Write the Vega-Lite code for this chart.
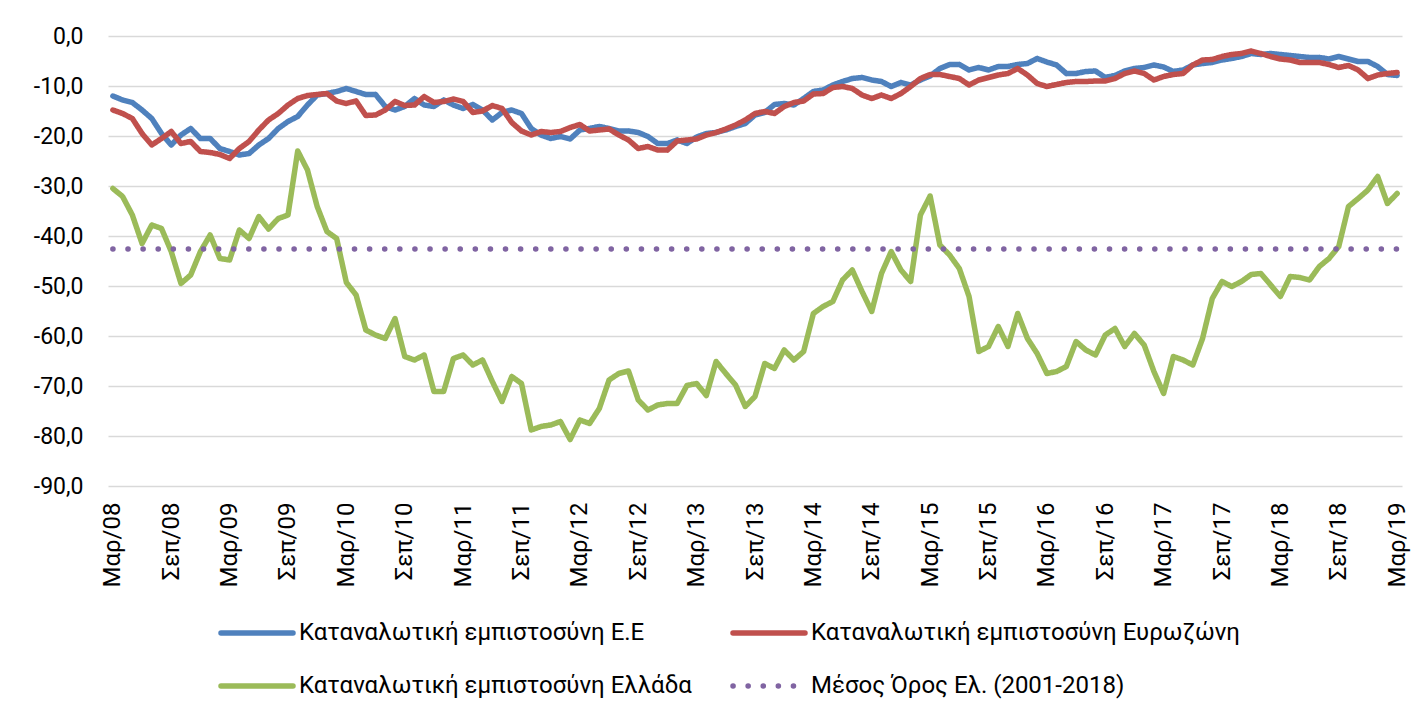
{
  "$schema": "https://vega.github.io/schema/vega-lite/v6.json",
  "autosize": "none",
  "width": 1294,
  "height": 450,
  "padding": {"left": 108, "top": 36, "right": 11, "bottom": 226},
  "background": "white",
  "config": {
    "view": {"stroke": null},
    "font": "Roboto",
    "axis": {"labelFont": "Roboto", "labelColor": "#000000"},
    "legend": {"labelFont": "Roboto"}
  },
  "data": {"values": [
{"d":"2008-03","eu":-12.0,"ea":-14.8,"gr":-30.5,"avg":-42.6},
{"d":"2008-04","eu":-12.8,"ea":-15.5,"gr":-32.1,"avg":-42.6},
{"d":"2008-05","eu":-13.3,"ea":-16.5,"gr":-35.8,"avg":-42.6},
{"d":"2008-06","eu":-14.8,"ea":-19.5,"gr":-41.5,"avg":-42.6},
{"d":"2008-07","eu":-16.5,"ea":-21.8,"gr":-37.8,"avg":-42.6},
{"d":"2008-08","eu":-19.5,"ea":-20.5,"gr":-38.5,"avg":-42.6},
{"d":"2008-09","eu":-21.8,"ea":-19.1,"gr":-43.1,"avg":-42.6},
{"d":"2008-10","eu":-19.8,"ea":-21.5,"gr":-49.5,"avg":-42.6},
{"d":"2008-11","eu":-18.5,"ea":-21.1,"gr":-47.8,"avg":-42.6},
{"d":"2008-12","eu":-20.5,"ea":-23.1,"gr":-43.1,"avg":-42.6},
{"d":"2009-01","eu":-20.5,"ea":-23.3,"gr":-39.8,"avg":-42.6},
{"d":"2009-02","eu":-22.5,"ea":-23.7,"gr":-44.5,"avg":-42.6},
{"d":"2009-03","eu":-23.1,"ea":-24.5,"gr":-44.8,"avg":-42.6},
{"d":"2009-04","eu":-23.8,"ea":-22.5,"gr":-38.8,"avg":-42.6},
{"d":"2009-05","eu":-23.5,"ea":-21.1,"gr":-40.5,"avg":-42.6},
{"d":"2009-06","eu":-21.8,"ea":-18.8,"gr":-36.1,"avg":-42.6},
{"d":"2009-07","eu":-20.5,"ea":-16.8,"gr":-38.6,"avg":-42.6},
{"d":"2009-08","eu":-18.5,"ea":-15.5,"gr":-36.5,"avg":-42.6},
{"d":"2009-09","eu":-17.1,"ea":-13.8,"gr":-35.8,"avg":-42.6},
{"d":"2009-10","eu":-16.1,"ea":-12.5,"gr":-23.0,"avg":-42.6},
{"d":"2009-11","eu":-13.8,"ea":-11.9,"gr":-26.8,"avg":-42.6},
{"d":"2009-12","eu":-11.8,"ea":-11.7,"gr":-34.1,"avg":-42.6},
{"d":"2010-01","eu":-11.5,"ea":-11.5,"gr":-39.1,"avg":-42.6},
{"d":"2010-02","eu":-11.1,"ea":-13.0,"gr":-40.5,"avg":-42.6},
{"d":"2010-03","eu":-10.5,"ea":-13.5,"gr":-49.3,"avg":-42.6},
{"d":"2010-04","eu":-11.1,"ea":-13.0,"gr":-51.8,"avg":-42.6},
{"d":"2010-05","eu":-11.7,"ea":-15.9,"gr":-58.8,"avg":-42.6},
{"d":"2010-06","eu":-11.7,"ea":-15.8,"gr":-59.8,"avg":-42.6},
{"d":"2010-07","eu":-14.1,"ea":-14.8,"gr":-60.5,"avg":-42.6},
{"d":"2010-08","eu":-14.8,"ea":-13.1,"gr":-56.5,"avg":-42.6},
{"d":"2010-09","eu":-14.1,"ea":-13.9,"gr":-64.1,"avg":-42.6},
{"d":"2010-10","eu":-12.5,"ea":-13.8,"gr":-64.8,"avg":-42.6},
{"d":"2010-11","eu":-13.8,"ea":-12.1,"gr":-63.8,"avg":-42.6},
{"d":"2010-12","eu":-14.1,"ea":-13.3,"gr":-71.1,"avg":-42.6},
{"d":"2011-01","eu":-12.8,"ea":-13.1,"gr":-71.1,"avg":-42.6},
{"d":"2011-02","eu":-13.8,"ea":-12.6,"gr":-64.5,"avg":-42.6},
{"d":"2011-03","eu":-14.5,"ea":-13.1,"gr":-63.8,"avg":-42.6},
{"d":"2011-04","eu":-13.7,"ea":-15.3,"gr":-65.8,"avg":-42.6},
{"d":"2011-05","eu":-14.8,"ea":-15.0,"gr":-64.8,"avg":-42.6},
{"d":"2011-06","eu":-16.8,"ea":-13.9,"gr":-69.1,"avg":-42.6},
{"d":"2011-07","eu":-15.3,"ea":-14.5,"gr":-73.1,"avg":-42.6},
{"d":"2011-08","eu":-14.8,"ea":-17.3,"gr":-68.1,"avg":-42.6},
{"d":"2011-09","eu":-15.5,"ea":-19.0,"gr":-69.5,"avg":-42.6},
{"d":"2011-10","eu":-18.5,"ea":-19.8,"gr":-78.8,"avg":-42.6},
{"d":"2011-11","eu":-19.8,"ea":-19.1,"gr":-78.1,"avg":-42.6},
{"d":"2011-12","eu":-20.5,"ea":-19.3,"gr":-77.8,"avg":-42.6},
{"d":"2012-01","eu":-20.1,"ea":-19.1,"gr":-77.1,"avg":-42.6},
{"d":"2012-02","eu":-20.6,"ea":-18.3,"gr":-80.7,"avg":-42.6},
{"d":"2012-03","eu":-18.8,"ea":-17.7,"gr":-76.8,"avg":-42.6},
{"d":"2012-04","eu":-18.5,"ea":-19.0,"gr":-77.5,"avg":-42.6},
{"d":"2012-05","eu":-18.1,"ea":-18.8,"gr":-74.5,"avg":-42.6},
{"d":"2012-06","eu":-18.5,"ea":-18.6,"gr":-68.8,"avg":-42.6},
{"d":"2012-07","eu":-19.0,"ea":-19.8,"gr":-67.5,"avg":-42.6},
{"d":"2012-08","eu":-19.0,"ea":-20.8,"gr":-67.0,"avg":-42.6},
{"d":"2012-09","eu":-19.3,"ea":-22.5,"gr":-72.8,"avg":-42.6},
{"d":"2012-10","eu":-20.1,"ea":-22.1,"gr":-74.8,"avg":-42.6},
{"d":"2012-11","eu":-21.5,"ea":-22.8,"gr":-73.8,"avg":-42.6},
{"d":"2012-12","eu":-21.5,"ea":-22.8,"gr":-73.5,"avg":-42.6},
{"d":"2013-01","eu":-20.8,"ea":-21.0,"gr":-73.5,"avg":-42.6},
{"d":"2013-02","eu":-21.5,"ea":-20.8,"gr":-69.9,"avg":-42.6},
{"d":"2013-03","eu":-20.2,"ea":-20.6,"gr":-69.5,"avg":-42.6},
{"d":"2013-04","eu":-19.5,"ea":-19.8,"gr":-71.9,"avg":-42.6},
{"d":"2013-05","eu":-19.3,"ea":-19.3,"gr":-65.1,"avg":-42.6},
{"d":"2013-06","eu":-18.8,"ea":-18.6,"gr":-67.5,"avg":-42.6},
{"d":"2013-07","eu":-18.1,"ea":-17.8,"gr":-69.8,"avg":-42.6},
{"d":"2013-08","eu":-17.5,"ea":-16.8,"gr":-74.1,"avg":-42.6},
{"d":"2013-09","eu":-15.8,"ea":-15.5,"gr":-72.1,"avg":-42.6},
{"d":"2013-10","eu":-15.3,"ea":-15.1,"gr":-65.5,"avg":-42.6},
{"d":"2013-11","eu":-13.7,"ea":-15.5,"gr":-66.5,"avg":-42.6},
{"d":"2013-12","eu":-13.5,"ea":-14.1,"gr":-62.8,"avg":-42.6},
{"d":"2014-01","eu":-13.8,"ea":-13.3,"gr":-64.8,"avg":-42.6},
{"d":"2014-02","eu":-12.5,"ea":-13.0,"gr":-63.1,"avg":-42.6},
{"d":"2014-03","eu":-11.1,"ea":-11.6,"gr":-55.5,"avg":-42.6},
{"d":"2014-04","eu":-10.8,"ea":-11.5,"gr":-54.1,"avg":-42.6},
{"d":"2014-05","eu":-9.8,"ea":-10.3,"gr":-53.1,"avg":-42.6},
{"d":"2014-06","eu":-9.1,"ea":-10.1,"gr":-48.8,"avg":-42.6},
{"d":"2014-07","eu":-8.5,"ea":-10.5,"gr":-46.8,"avg":-42.6},
{"d":"2014-08","eu":-8.3,"ea":-11.8,"gr":-51.1,"avg":-42.6},
{"d":"2014-09","eu":-8.8,"ea":-12.5,"gr":-55.1,"avg":-42.6},
{"d":"2014-10","eu":-9.1,"ea":-11.8,"gr":-47.5,"avg":-42.6},
{"d":"2014-11","eu":-10.1,"ea":-12.5,"gr":-43.1,"avg":-42.6},
{"d":"2014-12","eu":-9.3,"ea":-11.5,"gr":-46.8,"avg":-42.6},
{"d":"2015-01","eu":-9.8,"ea":-10.1,"gr":-49.1,"avg":-42.6},
{"d":"2015-02","eu":-8.8,"ea":-8.5,"gr":-35.8,"avg":-42.6},
{"d":"2015-03","eu":-8.0,"ea":-7.7,"gr":-32.0,"avg":-42.6},
{"d":"2015-04","eu":-6.5,"ea":-7.7,"gr":-41.8,"avg":-42.6},
{"d":"2015-05","eu":-5.7,"ea":-8.1,"gr":-43.8,"avg":-42.6},
{"d":"2015-06","eu":-5.7,"ea":-8.5,"gr":-46.5,"avg":-42.6},
{"d":"2015-07","eu":-6.8,"ea":-9.8,"gr":-52.1,"avg":-42.6},
{"d":"2015-08","eu":-6.3,"ea":-8.8,"gr":-63.1,"avg":-42.6},
{"d":"2015-09","eu":-6.8,"ea":-8.3,"gr":-62.1,"avg":-42.6},
{"d":"2015-10","eu":-6.1,"ea":-7.8,"gr":-58.1,"avg":-42.6},
{"d":"2015-11","eu":-6.1,"ea":-7.5,"gr":-62.1,"avg":-42.6},
{"d":"2015-12","eu":-5.7,"ea":-6.5,"gr":-55.5,"avg":-42.6},
{"d":"2016-01","eu":-5.5,"ea":-7.8,"gr":-60.5,"avg":-42.6},
{"d":"2016-02","eu":-4.5,"ea":-9.5,"gr":-63.5,"avg":-42.6},
{"d":"2016-03","eu":-5.2,"ea":-10.1,"gr":-67.5,"avg":-42.6},
{"d":"2016-04","eu":-5.8,"ea":-9.7,"gr":-67.1,"avg":-42.6},
{"d":"2016-05","eu":-7.5,"ea":-9.3,"gr":-66.1,"avg":-42.6},
{"d":"2016-06","eu":-7.5,"ea":-9.1,"gr":-61.1,"avg":-42.6},
{"d":"2016-07","eu":-7.1,"ea":-9.1,"gr":-62.8,"avg":-42.6},
{"d":"2016-08","eu":-7.0,"ea":-9.0,"gr":-63.8,"avg":-42.6},
{"d":"2016-09","eu":-8.3,"ea":-9.0,"gr":-59.8,"avg":-42.6},
{"d":"2016-10","eu":-7.9,"ea":-8.5,"gr":-58.5,"avg":-42.6},
{"d":"2016-11","eu":-7.0,"ea":-7.5,"gr":-62.1,"avg":-42.6},
{"d":"2016-12","eu":-6.5,"ea":-7.0,"gr":-59.5,"avg":-42.6},
{"d":"2017-01","eu":-6.3,"ea":-7.5,"gr":-61.8,"avg":-42.6},
{"d":"2017-02","eu":-5.8,"ea":-8.8,"gr":-67.1,"avg":-42.6},
{"d":"2017-03","eu":-6.2,"ea":-8.1,"gr":-71.5,"avg":-42.6},
{"d":"2017-04","eu":-7.1,"ea":-7.7,"gr":-64.1,"avg":-42.6},
{"d":"2017-05","eu":-6.8,"ea":-7.5,"gr":-64.8,"avg":-42.6},
{"d":"2017-06","eu":-5.8,"ea":-5.8,"gr":-65.8,"avg":-42.6},
{"d":"2017-07","eu":-5.5,"ea":-4.8,"gr":-60.5,"avg":-42.6},
{"d":"2017-08","eu":-5.3,"ea":-4.7,"gr":-52.5,"avg":-42.6},
{"d":"2017-09","eu":-4.8,"ea":-4.1,"gr":-49.1,"avg":-42.6},
{"d":"2017-10","eu":-4.5,"ea":-3.7,"gr":-50.1,"avg":-42.6},
{"d":"2017-11","eu":-4.1,"ea":-3.5,"gr":-49.1,"avg":-42.6},
{"d":"2017-12","eu":-3.5,"ea":-3.0,"gr":-47.7,"avg":-42.6},
{"d":"2018-01","eu":-3.7,"ea":-3.5,"gr":-47.5,"avg":-42.6},
{"d":"2018-02","eu":-3.5,"ea":-4.1,"gr":-49.8,"avg":-42.6},
{"d":"2018-03","eu":-3.7,"ea":-4.6,"gr":-52.1,"avg":-42.6},
{"d":"2018-04","eu":-3.9,"ea":-4.8,"gr":-48.1,"avg":-42.6},
{"d":"2018-05","eu":-4.1,"ea":-5.3,"gr":-48.3,"avg":-42.6},
{"d":"2018-06","eu":-4.3,"ea":-5.3,"gr":-48.8,"avg":-42.6},
{"d":"2018-07","eu":-4.3,"ea":-5.3,"gr":-46.1,"avg":-42.6},
{"d":"2018-08","eu":-4.6,"ea":-5.7,"gr":-44.5,"avg":-42.6},
{"d":"2018-09","eu":-4.1,"ea":-6.3,"gr":-42.1,"avg":-42.6},
{"d":"2018-10","eu":-4.6,"ea":-5.9,"gr":-34.1,"avg":-42.6},
{"d":"2018-11","eu":-5.1,"ea":-6.8,"gr":-32.5,"avg":-42.6},
{"d":"2018-12","eu":-5.1,"ea":-8.5,"gr":-30.8,"avg":-42.6},
{"d":"2019-01","eu":-6.1,"ea":-7.8,"gr":-28.1,"avg":-42.6},
{"d":"2019-02","eu":-7.7,"ea":-7.5,"gr":-33.5,"avg":-42.6},
{"d":"2019-03","eu":-7.9,"ea":-7.3,"gr":-31.5,"avg":-42.6}
  ]},
  "transform": [{"fold": ["eu", "ea", "gr", "avg"], "as": ["s", "v"]}],
  "mark": {"type": "line", "strokeCap": "round", "strokeJoin": "round"},
  "encoding": {
    "x": {
      "field": "d", "type": "ordinal", "sort": "ascending",
      "scale": {"type": "point", "padding": 0.5},
      "axis": {
        "title": null,
        "values": ["2008-03","2008-09","2009-03","2009-09","2010-03","2010-09","2011-03","2011-09","2012-03","2012-09","2013-03","2013-09","2014-03","2014-09","2015-03","2015-09","2016-03","2016-09","2017-03","2017-09","2018-03","2018-09","2019-03"],
        "labelExpr": "(substring(datum.value,5,7)=='03' ? 'Μαρ/' : 'Σεπ/') + substring(datum.value,2,4)",
        "labelAngle": -90,
        "labelAlign": "right",
        "labelBaseline": "middle",
        "labelFontSize": 24,
        "labelPadding": 16,
        "domain": false,
        "ticks": false,
        "grid": false
      }
    },
    "y": {
      "field": "v", "type": "quantitative",
      "scale": {"domain": [-90, 0], "nice": false, "zero": false},
      "axis": {
        "title": null,
        "values": [0, -10, -20, -30, -40, -50, -60, -70, -80, -90],
        "labelExpr": "(datum.value < 0 ? '-' : '') + replace(format(abs(datum.value), '.1f'), '.', ',')",
        "labelFontSize": 23,
        "labelPadding": 25,
        "domain": false,
        "ticks": false,
        "grid": true,
        "gridColor": "#D9D9D9",
        "gridWidth": 1.5
      }
    },
    "color": {
      "field": "s", "type": "nominal",
      "scale": {"domain": ["eu", "ea", "gr", "avg"], "range": ["#4F81BD", "#C0504D", "#9BBB59", "#8064A2"]},
      "legend": {
        "title": null,
        "orient": "none",
        "legendX": 110,
        "legendY": 558,
        "columns": 2,
        "direction": "horizontal",
        "symbolType": "stroke",
        "symbolSize": 5184,
        "symbolStrokeWidth": 6,
        "labelFontSize": 24,
        "labelLimit": 600,
        "labelOffset": 3,
        "columnPadding": 30,
        "rowPadding": 2,
        "labelExpr": "datum.value == 'eu' ? 'Καταναλωτική εμπιστοσύνη Ε.Ε' : datum.value == 'ea' ? 'Καταναλωτική εμπιστοσύνη Ευρωζώνη' : datum.value == 'gr' ? 'Καταναλωτική εμπιστοσύνη Ελλάδα' : 'Μέσος Όρος Ελ. (2001-2018)'",
        "encode": {"symbols": {"update": {"strokeCap": {"value": "round"}}}}
      }
    },
    "strokeDash": {
      "field": "s", "type": "nominal",
      "scale": {"domain": ["eu", "ea", "gr", "avg"], "range": [[1, 0], [1, 0], [1, 0], [0.1, 15]]},
      "legend": null
    },
    "strokeWidth": {
      "field": "s", "type": "nominal",
      "scale": {"domain": ["eu", "ea", "gr", "avg"], "range": [5.5, 5.5, 5.5, 6]},
      "legend": null
    }
  }
}
